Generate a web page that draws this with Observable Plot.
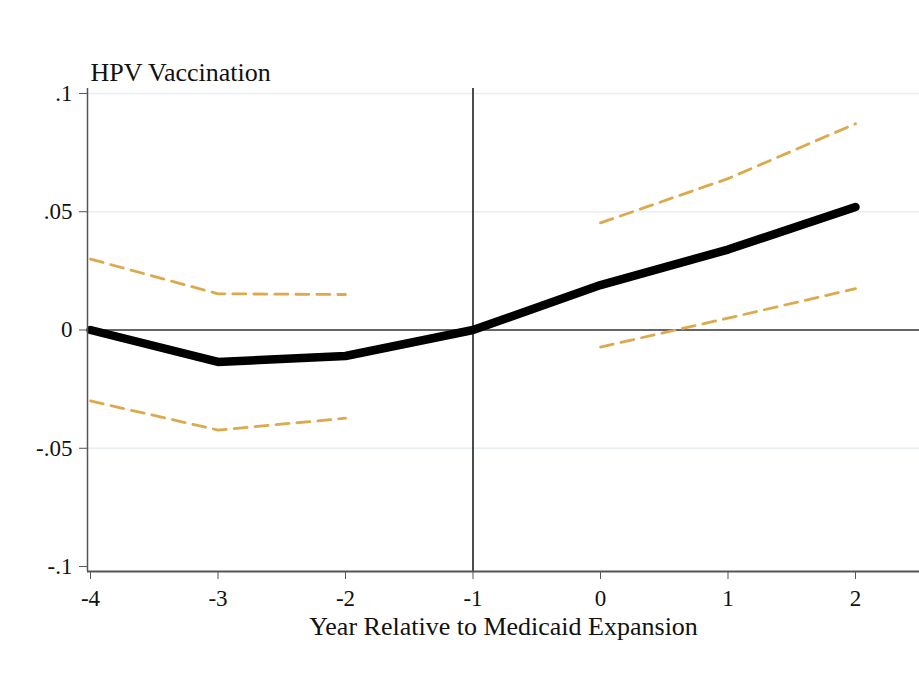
<!DOCTYPE html>
<html>
<head>
<meta charset="utf-8">
<script src="https://cdn.jsdelivr.net/npm/d3@7"></script>
<script src="https://cdn.jsdelivr.net/npm/@observablehq/plot@0.6"></script>
<style>
  html, body { margin: 0; padding: 0; background: #fff; }
  #chart svg { display: block; }
</style>
</head>
<body>
<div id="chart"></div>
<script>
// ---- data ----
const years = [-4, -3, -2, -1, 0, 1, 2];
const estimate = [0, -0.0135, -0.011, 0, 0.019, 0.034, 0.052];
const preYears = [-4, -3, -2];
const preUpper = [0.030, 0.0153, 0.015];
const preLower = [-0.030, -0.0423, -0.0373];
const postYears = [0, 1, 2];
const postUpper = [0.0453, 0.064, 0.0872];
const postLower = [-0.0072, 0.005, 0.0175];
const yTickValues = [-0.1, -0.05, 0, 0.05, 0.1];
const yTickLabels = ["-.1", "-.05", "0", ".05", ".1"];
const xTickValues = [-4, -3, -2, -1, 0, 1, 2];
const xTickLabels = ["-4", "-3", "-2", "-1", "0", "1", "2"];
const gridValues = [-0.05, 0.05, 0.1];
const eventYear = -1;
const titleText = "HPV Vaccination";
const xTitle = "Year Relative to Medicaid Expansion";

const xDomain = [-4.0235, 2.502];
const yDomain = [-0.1021, 0.1021];

const mainRows = years.map((x, i) => ({x, y: estimate[i]}));
const ciRows = [
  ...preYears.map((x, i) => ({x, y: preUpper[i], g: "preU"})),
  ...preYears.map((x, i) => ({x, y: preLower[i], g: "preL"})),
  ...postYears.map((x, i) => ({x, y: postUpper[i], g: "postU"})),
  ...postYears.map((x, i) => ({x, y: postLower[i], g: "postL"}))
];

const serif = "'Liberation Serif', 'DejaVu Serif', serif";
const gold = "#dcaa4c";

const chart = Plot.plot({
  width: 919,
  height: 673,
  marginLeft: 87,
  marginRight: 0,
  marginTop: 88,
  marginBottom: 102,
  style: {fontFamily: serif, fontSize: "23px", color: "#111", background: "#fff"},
  x: {domain: xDomain, label: null},
  y: {domain: yDomain, label: null},
  marks: [
    Plot.ruleY(gridValues, {stroke: "#e8eef1", strokeWidth: 1.5}),
    Plot.ruleY([0], {stroke: "#333", strokeWidth: 1.5}),
    Plot.ruleX([eventYear], {stroke: "#111", strokeWidth: 1.5}),
    Plot.line(ciRows, {x: "x", y: "y", z: "g", stroke: gold, strokeWidth: 2.8, strokeDasharray: "13,8"}),
    Plot.line(mainRows, {x: "x", y: "y", stroke: "#000", strokeWidth: 8.5, strokeLinecap: "round", strokeLinejoin: "round"}),
    Plot.ruleX([xDomain[0]], {y1: yDomain[0], y2: yDomain[1], stroke: "#555", strokeWidth: 1.5}),
    Plot.ruleY([yDomain[0]], {stroke: "#555", strokeWidth: 2.2}),
    Plot.axisY({ticks: yTickValues, tickFormat: d => yTickLabels[yTickValues.indexOf(d)], tickSize: 8, tickPadding: 7, stroke: "#555", fontSize: 23, fill: "#111"}),
    Plot.axisX({ticks: xTickValues, tickFormat: d => xTickLabels[xTickValues.indexOf(d)], tickSize: 8, tickPadding: 10, stroke: "#555", fontSize: 23, fill: "#111", label: null}),
    Plot.text([xTitle], {frameAnchor: "bottom", lineAnchor: "middle", dy: 55, fontSize: 26, fill: "#111"}),
    Plot.text([titleText], {frameAnchor: "top-left", lineAnchor: "middle", dx: 3, dy: -16, fontSize: 26, fill: "#111", textAnchor: "start"})
  ]
});
document.getElementById("chart").appendChild(chart);
</script>
</body>
</html>
